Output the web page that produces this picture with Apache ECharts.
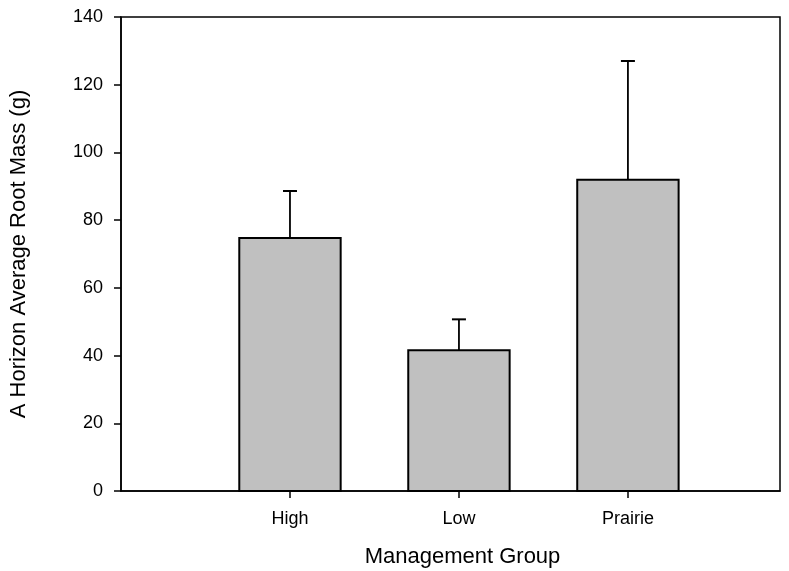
<!DOCTYPE html>
<html>
<head>
<meta charset="utf-8">
<script src="https://cdn.jsdelivr.net/npm/echarts@6/dist/echarts.min.js"></script>
<style>html,body{margin:0;padding:0;background:#fff;}#c{width:789px;height:571px;}</style>
</head>
<body>
<div id="c"></div>
<script>
const categories = ['High', 'Low', 'Prairie'];
const positions = [1, 2, 3];
const means = [74.7, 41.6, 91.9];
const errors = [13.9, 9.1, 35.1];
const yTicks = [0, 20, 40, 60, 80, 100, 120, 140];

const FONT = '"Liberation Sans", Arial, sans-serif';
const barData = positions.map((p, i) => [p, means[i]]);
const errData = positions.map((p, i) => [p, means[i], means[i] + errors[i]]);

const chart = echarts.init(document.getElementById('c'), null, {renderer: 'canvas'});
chart.setOption({
  animation: false,
  backgroundColor: '#fff',
  grid: {left: 121, right: 9, top: 17, bottom: 80, outerBoundsMode: 'none', containLabel: false,
    show: true, borderColor: '#000', borderWidth: 1.5, backgroundColor: 'transparent'},
  xAxis: {
    type: 'value', min: 0, max: 3.9,
    name: 'Management Group', nameLocation: 'middle', nameGap: 55,
    nameTextStyle: {fontFamily: FONT, fontSize: 22, color: '#000', padding: [0, 0, 0, 24]},
    axisLine: {show: true, lineStyle: {color: '#000', width: 1.5}},
    axisTick: {show: true, customValues: positions, length: 7, lineStyle: {color: '#000', width: 1.5}},
    axisLabel: {customValues: positions, margin: 19, fontFamily: FONT, fontSize: 18, color: '#000',
      formatter: v => { const i = positions.indexOf(Math.round(v)); return i >= 0 ? categories[i] : ''; }},
    splitLine: {show: false}
  },
  yAxis: {
    type: 'value', min: 0, max: 140, interval: 20,
    name: 'A Horizon Average Root Mass (g)', nameLocation: 'middle', nameGap: 91,
    nameTextStyle: {fontFamily: FONT, fontSize: 22, color: '#000'},
    axisLine: {show: true, lineStyle: {color: '#000', width: 1.5}},
    axisTick: {show: true, length: 7, lineStyle: {color: '#000', width: 1.5}},
    axisLabel: {margin: 18, fontFamily: FONT, fontSize: 18, color: '#000',
      formatter: v => yTicks.includes(v) ? String(v) : ''},
    splitLine: {show: false}
  },
  series: [
    {
      type: 'custom',
      data: barData,
      renderItem: function (params, api) {
        const x = api.value(0), y = api.value(1);
        const p0 = api.coord([x - 0.3, y]);
        const p1 = api.coord([x + 0.3, 0]);
        return {
          type: 'rect',
          shape: {x: p0[0], y: p0[1], width: p1[0] - p0[0], height: p1[1] - p0[1]},
          style: {fill: '#c0c0c0', stroke: '#000', lineWidth: 2}
        };
      },
      z: 2
    },
    {
      type: 'custom',
      data: errData,
      renderItem: function (params, api) {
        const x = api.value(0);
        const lo = api.coord([x, api.value(1)]);
        const hi = api.coord([x, api.value(2)]);
        const cap = 7;
        return {
          type: 'group',
          children: [
            {type: 'line', shape: {x1: lo[0], y1: lo[1], x2: hi[0], y2: hi[1]}, style: {stroke: '#000', lineWidth: 1.8}},
            {type: 'line', shape: {x1: hi[0] - cap, y1: hi[1], x2: hi[0] + cap, y2: hi[1]}, style: {stroke: '#000', lineWidth: 2}}
          ]
        };
      },
      z: 3
    }
  ]
});
</script>
</body>
</html>
